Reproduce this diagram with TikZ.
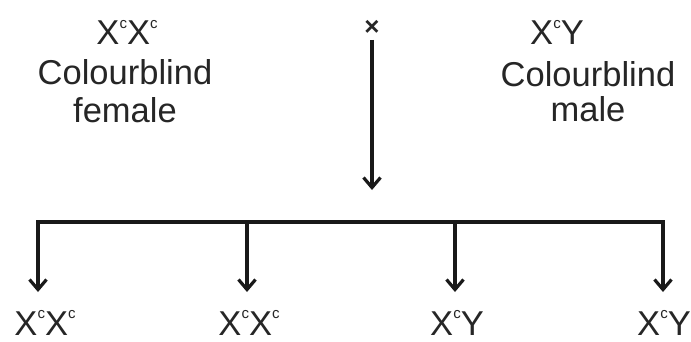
\documentclass[tikz,border=0pt]{standalone}
\usepackage{fontspec}
\setmainfont{Liberation Sans}
\usetikzlibrary{arrows.meta}
\newcommand\Xsc{X\raisebox{16.5pt}{\fontsize{15}{15}\selectfont c}}
\begin{document}
\begin{tikzpicture}[x=1pt,y=-1pt,
  lbl/.style={font=\fontsize{34.5}{38}\selectfont, inner sep=0pt, anchor=base, text=black!85},
  conn/.style={line width=3.2pt, draw=black!90, -{Straight Barb[length=10pt,width=17pt]}},
  bar/.style={line width=3.2pt, draw=black!90, line cap=rect}]
\fill[white] (0,0) rectangle (691,342);
\useasboundingbox (0,0) rectangle (691,342);
\node[lbl] (pf) at (127,45) {\Xsc\Xsc};
\node[lbl] (pfa) at (125,85) {Colourblind};
\node[lbl] (pfb) at (125,123) {female};
\node[lbl] (pm) at (557,45) {\Xsc Y};
\node[lbl] (pma) at (588,87) {Colourblind};
\node[lbl] (pmb) at (588,122) {male};
\node[font=\fontsize{26}{26}\selectfont\bfseries, inner sep=0pt, text=black!85] (cross) at (372,28) {×};
\coordinate (ctop) at (372,40);
\coordinate (cbot) at (372,190);
\draw[conn] (ctop) -- (cbot);
\coordinate (b1) at (38,222);
\coordinate (b2) at (247,222);
\coordinate (b3) at (455,222);
\coordinate (b4) at (663,222);
\coordinate (t1) at (38,292);
\coordinate (t2) at (247,292);
\coordinate (t3) at (455,292);
\coordinate (t4) at (663,292);
\draw[bar] (b1) -- (b4);
\foreach \i in {1,...,4} {\draw[conn] (b\i) -- (t\i);}
\node[lbl] (o1) at (45,335) {\Xsc\Xsc};
\node[lbl] (o2) at (249,335) {\Xsc\Xsc};
\node[lbl] (o3) at (457,335) {\Xsc Y};
\node[lbl] (o4) at (664,335) {\Xsc Y};
\end{tikzpicture}
\end{document}
